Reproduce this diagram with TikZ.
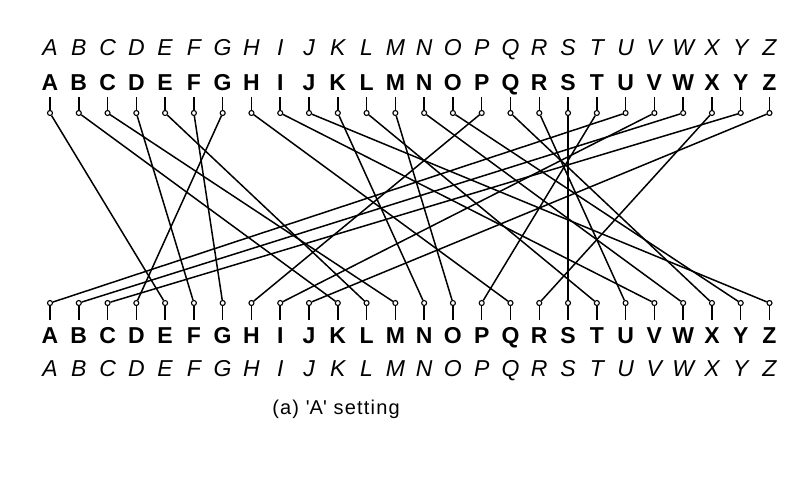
\documentclass[tikz,border=0pt]{standalone}
\usepackage{fontspec}
\setmainfont{Liberation Sans}
\usetikzlibrary{positioning}

\tikzset{
  plain letter/.style={inner sep=0pt, text height=16.5pt, text depth=0pt,
    font=\fontsize{23}{23}\selectfont\itshape},
  bold letter/.style={inner sep=0pt, text height=16.5pt, text depth=0pt,
    font=\fontsize{23}{23}\selectfont\bfseries},
  contact/.style={circle, draw, fill=white, inner sep=0pt, minimum size=5pt, line width=1.1pt},
  wire/.style={line width=1.5pt},
}

\begin{document}
\begin{tikzpicture}[x=1pt,y=-1pt]
  \useasboundingbox (0,0) rectangle (804,488);
  % letters, stems and contacts
  \foreach \l [count=\i from 0] in {A,...,Z}{
    \pgfmathsetmacro{\x}{50+28.78*\i}
    \node[plain letter] (ti-\l) at (\x,47) {\l};
    \node[bold letter] (tb-\l) at (\x,82) {\l};
    \coordinate (ts-\l) at (\x,97);
    \node[contact] (tc-\l) at (\x,113) {};
    \draw[wire] (ts-\l) -- (tc-\l);
    \node[contact] (bc-\l) at (\x,303) {};
    \coordinate (bs-\l) at (\x,320);
    \draw[wire] (bc-\l) -- (bs-\l);
    \node[bold letter] (bb-\l) at (\x,335) {\l};
    \node[plain letter] (bi-\l) at (\x,368) {\l};
  }
  % rotor wiring
  \foreach \a/\b in {A/E,B/K,C/M,D/F,E/L,F/G,G/D,H/Q,I/V,J/Z,K/N,L/T,M/O,
                     N/W,O/Y,P/H,Q/X,R/U,S/S,T/P,U/A,V/I,W/B,X/R,Y/C,Z/J}
    \draw[wire] (tc-\a) -- (bc-\b);
  \node[font=\fontsize{20}{20}\selectfont\addfontfeature{LetterSpace=6}] (caption) at (336,409)
    {(a) \textquotesingle A\textquotesingle{} setting};
\end{tikzpicture}
\end{document}
